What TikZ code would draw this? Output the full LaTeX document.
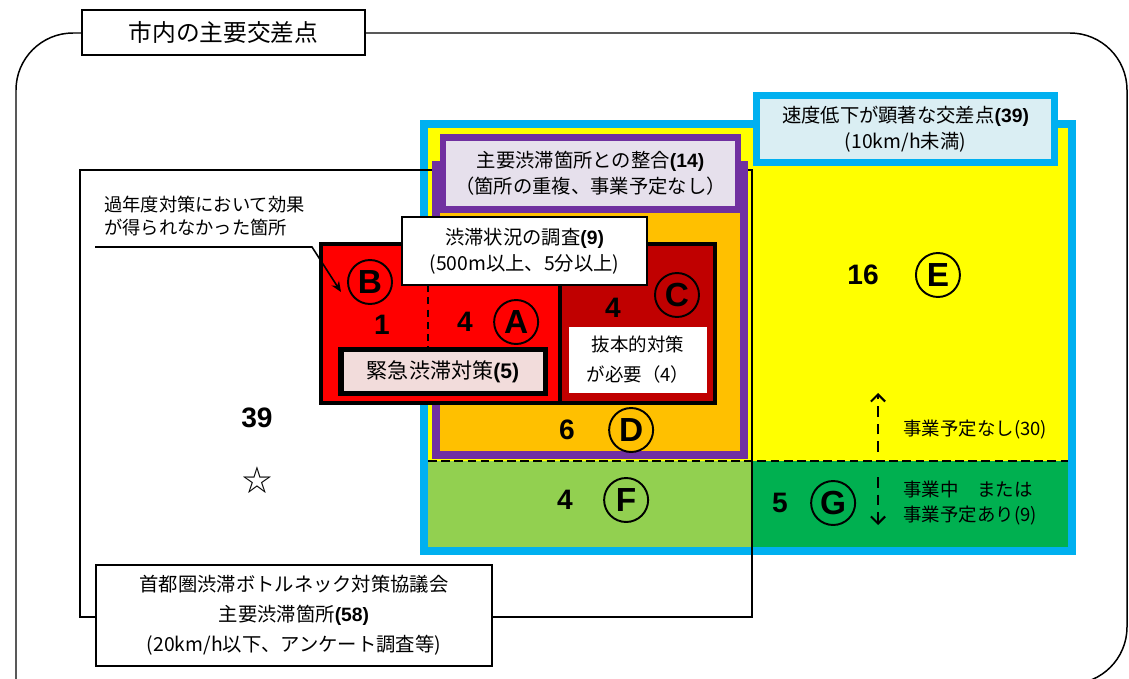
\documentclass[tikz,border=0pt]{standalone}
\usepackage{fontspec}
\setmainfont{Noto Sans CJK JP}
\newfontfamily\latinfont{Liberation Sans}
\usetikzlibrary{positioning, arrows.meta}

\definecolor{frameCyan}{HTML}{00B0F0}
\definecolor{fillYellow}{HTML}{FFFF00}
\definecolor{fillOrange}{HTML}{FFC000}
\definecolor{framePurple}{HTML}{7030A0}
\definecolor{fillLavender}{HTML}{E6E0EC}
\definecolor{fillRed}{HTML}{FF0000}
\definecolor{fillDarkRed}{HTML}{C00000}
\definecolor{fillPink}{HTML}{F2DCDB}
\definecolor{fillLightGreen}{HTML}{92D050}
\definecolor{fillGreen}{HTML}{00B050}
\definecolor{fillLightBlue}{HTML}{DAEEF3}

\newcommand{\bnum}[1]{{\latinfont\bfseries #1}}

\begin{document}
\begin{tikzpicture}[
    x=0.02cm, y=-0.02cm,
    every node/.style={inner sep=0pt, align=center},
    txt/.style={font=\fontsize{11}{15}\selectfont},
    box/.style={draw=black, fill=white, line width=0.9pt},
    count/.style={font=\fontsize{16}{16}\latinfont\bfseries},
    letter/.style={circle, draw=black, line width=1.1pt, minimum size=0.88cm, font=\fontsize{19}{19}\latinfont\bfseries},
    arrow/.style={-{Stealth[length=6pt,width=5pt]}, line width=0.9pt},
    dasharrow/.style={-{Straight Barb[length=4pt,width=8pt]}, line width=1.2pt, dash pattern=on 6pt off 4pt}
]

\useasboundingbox (0,0) rectangle (1129,679);

% Outer frame and title
\draw[line width=0.85pt, rounded corners=1.14cm] (16,684) -- (16,33) -- (1127,33) -- (1127,684) -- (700,684);
\node (title) [box, minimum width=5.66cm, minimum height=0.9cm, font=\fontsize{13.5}{15}\selectfont] at (223.5,32.5) {市内の主要交差点};

% Speed-drop crossings (yellow / green zones)
\draw[line width=4.2pt, draw=frameCyan, fill=fillYellow] (424,124) rectangle (1072,551);
\fill[fillLightGreen] (428,461) rectangle (752,547);
\fill[fillGreen] (752,461) rectangle (1068,547);
\draw[line width=1.1pt, dash pattern=on 5pt off 2.5pt] (428,461) -- (1068,461);

% Main bottleneck frame
\draw[line width=1.6pt] (80,170) rectangle (752,617);

% Overlap with main bottlenecks
\draw[line width=4pt, draw=framePurple, fill=fillOrange] (436,165) rectangle (744,455);
\node (overlapLbl) [txt, draw=framePurple, fill=fillLavender, line width=3.8pt, minimum width=5.9cm, minimum height=1.44cm] at (590.5,173.5) {主要渋滞箇所との整合\bnum{(14)}\\（箇所の重複、事業予定なし）};
\node (speedLbl) [txt, draw=frameCyan, fill=fillLightBlue, line width=4pt, minimum width=5.96cm, minimum height=1.34cm] at (905.5,129) {速度低下が顕著な交差点\bnum{(39)}\\(10km/h未満)};

% Red group A B C
\fill[fillRed] (321,244) rectangle (560,403);
\fill[fillDarkRed] (560,244) rectangle (715,403);
\draw[line width=2.6pt] (321,244) rectangle (715,403) (560,244) -- (560,403);
\draw[line width=0.9pt, dash pattern=on 4pt off 3pt] (428,285) -- (428,347);

\node (surveyLbl) [box, txt, minimum width=4.9cm, minimum height=1.36cm] at (524.5,251) {渋滞状況の調査\bnum{(9)}\\(500m以上、5分以上)};
\node (urgentLbl) [txt, draw=black, fill=fillPink, line width=3.4pt, minimum width=4.1cm, minimum height=0.88cm, font=\fontsize{12}{14}\selectfont] at (443,371.5) {緊急渋滞対策\bnum{(5)}};
\node (radicalLbl) [fill=white, minimum width=2.76cm, minimum height=1.32cm, font=\fontsize{10.5}{17}\selectfont] at (638,360) {抜本的対策\\が必要（4）};

% Counts and letters
\node (numB) [count] at (382,325) {1};
\node (circB) [letter] at (370,282) {B};
\node (numA) [count] at (465,322) {4};
\node (circA) [letter, right=0.40cm of numA] {A};
\node (numC) [count] at (613,308) {4};
\node (circC) [letter] at (677,295) {C};
\node (numD) [count] at (567,430) {6};
\node (circD) [letter, right=0.66cm of numD] {D};
\node (numE) [count] at (863,275) {16};
\node (circE) [letter, right=0.72cm of numE] {E};
\node (numF) [count] at (565,500) {4};
\node (circF) [letter, right=0.60cm of numF] {F};
\node (numG) [count] at (780,503) {5};
\node (circG) [letter, right=0.44cm of numG] {G};

\node (numOut) [count] at (257,418) {39};
\node (star) [font=\fontsize{17}{17}\selectfont] at (257,480) {☆};

% Callout
\node (pastNote) [font=\fontsize{10.4}{13}\selectfont, align=left, anchor=west] at (104,216) {過年度対策において効果\\が得られなかった箇所};
\coordinate (noteStart) at (95,247);
\coordinate (noteKnee) at (312,247);
\coordinate (noteTip) at (341,292);
\draw[arrow] (noteStart) -- (noteKnee) -- (noteTip);

% Plan arrows
\coordinate (noPlanFrom) at (878,452);
\coordinate (noPlanTo) at (878,393);
\coordinate (inPlanFrom) at (878,477);
\coordinate (inPlanTo) at (878,525);
\draw[dasharrow] (noPlanFrom) -- (noPlanTo);
\draw[dasharrow] (inPlanFrom) -- (inPlanTo);
\node (noPlanLbl) [anchor=west, font=\fontsize{10.5}{14}\selectfont] at (903,430) {事業予定なし(30)};
\node (inPlanLbl) [anchor=west, align=left, font=\fontsize{10.5}{14.5}\selectfont] at (903,503) {事業中　または\\事業予定あり(9)};

% Main bottleneck label
\node (mainLbl) [box, line width=1.4pt, minimum width=7.92cm, minimum height=2.02cm, font=\fontsize{11}{17}\selectfont] at (294,615.5) {首都圏渋滞ボトルネック対策協議会\\主要渋滞箇所\bnum{(58)}\\(20km/h以下、アンケート調査等)};

\end{tikzpicture}
\end{document}
